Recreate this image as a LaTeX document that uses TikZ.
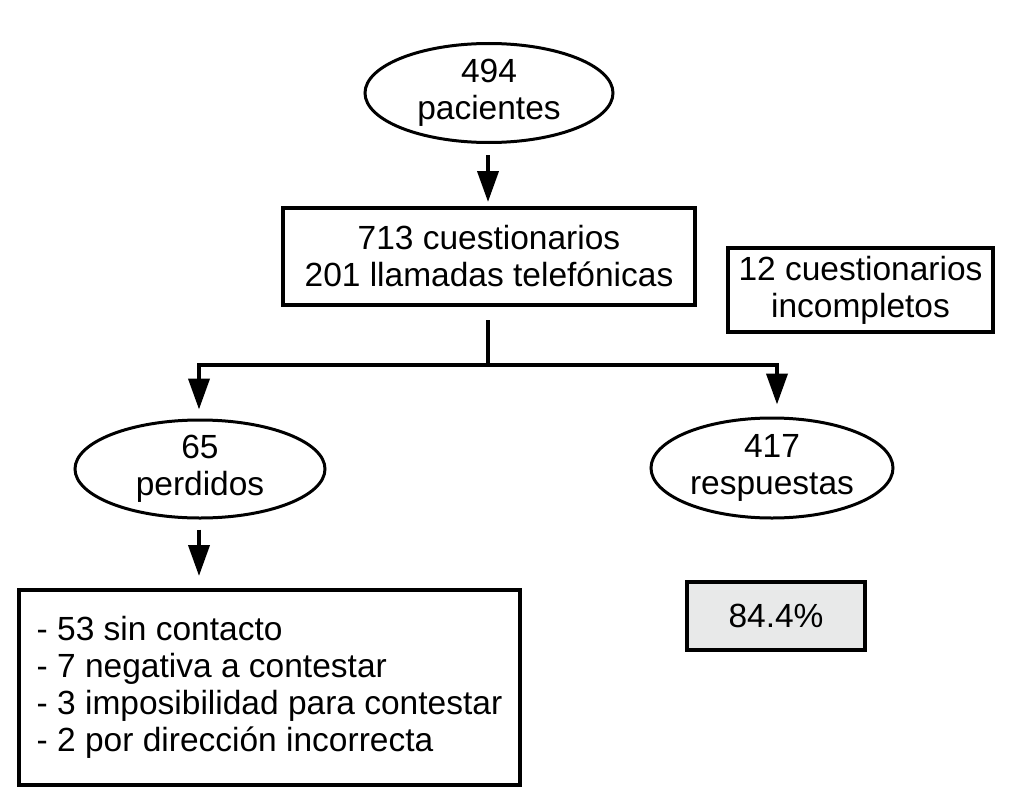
\documentclass[tikz,border=0pt]{standalone}
\usepackage{fontspec}
\setmainfont{Liberation Sans}
\usetikzlibrary{shapes.geometric,arrows.meta}
\definecolor{boxgray}{HTML}{E8E9E9}
\begin{document}
\begin{tikzpicture}[x=1pt,y=-1pt,
  txt/.style={font=\fontsize{33.5}{37}\selectfont, align=center, inner sep=0pt},
  oval/.style={txt, ellipse, draw, line width=3pt},
  rbox/.style={txt, rectangle, draw, line width=4pt},
  conn/.style={line width=4pt},
  arr/.style={line width=4pt, -{Triangle[length=31pt,width=21pt]}}
]
\useasboundingbox (0,0) rectangle (1012,800);
\fill[white] (0,0) rectangle (1012,800);

\node[oval, minimum width=248pt, minimum height=99pt] (A) at (489,93) {494\\pacientes};
\node[rbox, minimum width=412pt, minimum height=97pt] (B) at (489,256.5) {713 cuestionarios\\201 llamadas telefónicas};
\node[rbox, line width=3.5pt, minimum width=265pt, minimum height=84pt] (C) at (860.5,290) {12 cuestionarios\\incompletos};
\node[oval, minimum width=250pt, minimum height=98pt] (D) at (200,469) {65\\perdidos};
\node[oval, minimum width=242pt, minimum height=100pt] (E) at (772,468) {417\\respuestas};
\node[rbox, align=left, minimum width=501pt, minimum height=195pt] (F) at (269.5,687.5)
  {- 53 sin contacto\\- 7 negativa a contestar\\- 3 imposibilidad para contestar\\- 2 por dirección incorrecta};
\node[rbox, fill=boxgray, minimum width=178pt, minimum height=68pt] (G) at (776,616) {84.4\%};

\coordinate (J) at (488,365);

\draw[arr, shorten <=11pt, shorten >=4pt] (A.south -| 488,0) -- (B.north -| 488,0);
\draw[conn, shorten <=13pt] (B.south -| J) -- (J);
\draw[arr, shorten >=9pt] (J) -| (D.north -| 199,0);
\draw[arr, shorten >=12pt] (J) -| (E.north -| 777,0);
\draw[arr, shorten <=10pt, shorten >=12pt] (D.south -| 199,0) -- (F.north -| 199,0);
\end{tikzpicture}
\end{document}
